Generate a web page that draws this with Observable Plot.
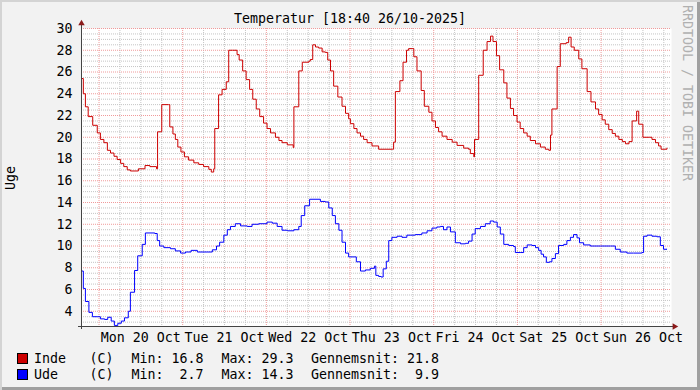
<!DOCTYPE html>
<html><head><meta charset="utf-8">
<script src="https://cdn.jsdelivr.net/npm/d3@7"></script>
<script src="https://cdn.jsdelivr.net/npm/@observablehq/plot@0.6"></script>
<style>
html,body{margin:0;padding:0;background:#fff;}
#chart{position:relative;width:700px;height:390px;background:#f2f2f2;font-family:"DejaVu Sans Mono",monospace;font-size:13.3px;color:#000;overflow:hidden;
  box-shadow: inset 2px 2px 0 #d4d4d4, inset -3px -3px 0 #a0a0a0;}
#chart svg{position:absolute;left:0;top:0;}
.t{position:absolute;white-space:pre;line-height:16px;}
.sw{position:absolute;width:9px;height:9px;border:1px solid #000;}
</style>
</head><body>
<div id="chart">
  <div class="t" id="title" style="left:0;width:700px;text-align:center;top:11px;">Temperatur [18:40 26/10-2025]</div>
  <div class="t" style="left:11px;top:178px;transform:translate(-50%,-50%) rotate(-90deg);">Uge</div>
  <div class="t" style="left:687px;top:93px;color:#b0b0b0;transform:translate(-50%,-50%) rotate(90deg);">RRDTOOL / TOBI OETIKER</div>
  <div id="legend"></div>
</div>
<script>
// hours since Mon 20 Oct 2025 00:00
const xStart = -5.02, xEnd = 164.2;
const yMin = 2.6, yMax = 30;

const dayStarts = [0, 24, 48, 72, 96, 120, 144];
const dayLabels = ["Mon 20 Oct", "Tue 21 Oct", "Wed 22 Oct", "Thu 23 Oct", "Fri 24 Oct", "Sat 25 Oct", "Sun 26 Oct"];
const yTicks = [4, 6, 8, 10, 12, 14, 16, 18, 20, 22, 24, 26, 28, 30];

const indeHours = [-5.0,-4.5,-3.9,-3.1,-1.8,-0.5,0.4,1.4,2.4,3.3,
  4.3,5.2,6.2,7.1,8.1,9.0,11.3,13.2,14.6,16.5,
  16.8,18.0,19.9,20.3,21.2,21.9,22.6,23.5,24.5,25.7,
  27.2,28.6,30.0,31.5,32.2,32.9,33.2,34.3,35.3,36.5,
  37.2,38.3,39.6,40.2,41.2,42.2,43.2,44.1,45.1,46.1,
  47.2,48.2,49.2,50.6,51.6,52.5,54.0,55.7,55.9,57.3,
  58.3,60.2,60.6,61.3,62.1,63.0,64.0,64.9,65.6,66.4,
  67.3,68.5,69.7,70.7,71.6,72.1,73.1,74.0,75.0,75.9,
  76.9,78.3,80.2,84.1,84.5,85.0,86.3,87.2,88.2,88.8,
  89.8,90.3,91.2,92.4,93.3,94.6,95.5,96.5,97.4,98.4,
  99.8,101.3,102.7,104.6,106.0,106.5,107.5,107.7,108.9,110.2,
  111.3,112.3,113.0,114.0,114.9,116.1,117.0,118.0,118.9,119.9,
  120.8,121.8,122.8,123.7,125.2,126.6,128.0,129.0,129.5,129.9,
  131.4,132.3,134.0,134.7,135.4,136.3,137.6,138.5,140.0,141.1,
  142.4,143.3,144.3,145.2,146.2,147.2,148.1,149.1,150.1,151.0,
  152.0,152.9,154.2,154.8,156.0,157.9,158.6,159.6,160.5,161.2,
  162.9];
const indeTemp = [25.4,24.0,22.8,21.9,21.1,20.4,19.8,19.5,18.8,18.55,
  18.25,17.95,17.6,17.3,17.0,16.9,17.1,17.4,17.3,17.1,
  20.5,23.0,23.0,20.95,20.3,19.8,19.1,18.65,18.2,17.9,
  17.65,17.5,17.3,17.05,16.8,17.1,20.8,23.9,24.4,25.1,
  28.0,28.0,27.6,27.1,26.1,25.3,24.4,23.5,22.6,21.9,
  21.3,20.8,20.4,20.0,19.7,19.5,19.3,19.05,22.8,26.1,
  26.9,27.0,27.15,28.5,28.3,28.2,27.85,27.8,27.1,26.1,
  24.7,23.7,22.85,22.2,21.7,21.25,20.8,20.4,20.1,19.8,
  19.5,19.2,18.9,18.9,19.55,24.2,25.2,26.9,28.0,28.15,
  28.15,27.4,26.1,24.3,22.85,22.3,21.5,20.9,20.5,20.1,
  19.8,19.55,19.25,19.0,18.9,18.5,18.2,19.8,25.7,28.0,
  28.8,29.3,28.8,27.5,26.2,25.0,23.6,22.65,22.0,21.4,
  20.8,20.4,20.1,19.7,19.4,19.1,18.9,18.8,20.2,22.6,
  26.5,28.6,28.7,29.2,28.3,28.0,27.2,26.3,24.2,23.25,
  22.6,22.1,21.6,21.2,20.7,20.35,20.1,19.8,19.6,19.4,
  19.6,21.5,22.4,21.2,20.0,20.0,19.8,19.5,19.2,18.9,
  19.0];

const udeHours = [-5.0,-4.5,-3.9,-2.9,-1.9,-0.5,0.4,1.6,2.5,3.5,
  4.4,5.4,6.4,7.3,8.4,9.0,10.2,11.1,12.4,13.3,
  16.0,16.7,17.4,18.6,20.5,21.9,23.4,24.8,26.4,28.2,
  31.0,32.5,33.7,34.6,35.8,36.8,37.7,39.1,40.6,42.5,
  43.9,45.8,48.2,49.7,51.1,52.5,54.0,55.9,57.3,58.0,
  59.0,60.4,63.5,64.9,65.9,66.9,67.8,68.8,69.7,70.7,
  71.6,73.1,73.8,75.0,76.4,77.8,79.0,79.4,80.2,80.9,
  81.5,82.4,83.1,84.0,85.5,86.9,88.3,90.7,92.6,94.1,
  95.5,96.9,97.9,98.8,99.8,100.8,102.2,103.7,105.1,106.0,
  107.0,107.9,109.4,110.8,112.2,113.2,114.2,115.1,116.1,117.5,
  118.9,119.4,120.8,121.8,122.8,124.2,125.2,126.1,126.8,127.5,
  128.3,129.2,129.9,130.9,131.8,133.3,134.2,135.2,136.1,137.1,
  137.8,139.0,140.9,143.8,146.7,148.1,149.5,151.4,153.3,155.7,
  156.2,157.2,158.6,160.0,161.0,161.9,162.9];
const udeTemp = [7.7,6.1,4.9,3.9,3.5,3.5,3.3,3.25,3.45,3.1,
  2.7,2.9,3.1,3.4,4.0,5.75,7.75,9.1,10.15,11.2,
  11.15,10.5,10.0,9.85,9.75,9.55,9.35,9.45,9.6,9.45,
  9.45,9.65,10.0,10.35,11.0,11.5,11.8,12.05,11.85,11.8,
  12.0,12.05,12.2,12.1,11.8,11.45,11.4,11.5,11.8,12.8,
  13.7,14.3,14.1,14.05,13.5,12.8,12.05,11.45,10.35,9.35,
  9.0,9.0,8.55,7.7,7.8,7.95,8.15,7.3,7.2,7.15,
  7.9,8.6,10.5,10.8,10.9,10.8,11.0,11.05,11.2,11.4,
  11.65,11.75,11.8,11.5,11.75,11.3,10.3,10.2,10.25,10.45,
  11.1,11.6,11.8,12.05,12.3,12.2,11.75,11.1,10.15,10.05,
  9.95,9.4,9.4,9.85,10.1,10.05,9.85,9.6,9.25,9.0,
  8.5,8.55,8.85,9.3,10.05,10.15,10.5,10.8,11.05,10.75,
  10.3,10.1,10.0,10.0,10.0,9.7,9.45,9.35,9.35,9.4,
  10.9,11.0,10.9,10.85,10.05,9.7,9.7];

const seriesNames = ["Inde", "Ude"];
const seriesUnits = ["(C)", "(C)"];
const seriesColors = ["#cc0000", "#0000ff"];
const minVals = [16.8, 2.7];
const maxVals = [29.3, 14.3];
const avgVals = [21.8, 9.9];

const inde = indeHours.map((t, i) => ({t, v: indeTemp[i]}));
const ude = udeHours.map((t, i) => ({t, v: udeTemp[i]}));

const majorX = dayStarts;
const minorX = dayStarts.flatMap(d => [d + 6, d + 12, d + 18]).filter(h => h > xStart && h < xEnd);
const minorY = d3.range(3, yMax, 0.5).filter(v => v % 2 !== 0);
const labelAt = new Map(dayStarts.map((d, i) => [d + 12, dayLabels[i]]));

const dash = "1,1";
const plot = Plot.plot({
  width: 700, height: 346,
  marginLeft: 81, marginRight: 29, marginTop: 28, marginBottom: 20,
  style: {background: "transparent", fontFamily: "'DejaVu Sans Mono', monospace", fontSize: "13.3px", color: "#000", overflow: "visible"},
  x: {type: "linear", domain: [xStart, xEnd]},
  y: {domain: [yMin, yMax]},
  marks: [
    Plot.frame({fill: "#ffffff", stroke: null}),
    Plot.ruleY(minorY, {stroke: "#c4c4c4", strokeDasharray: dash}),
    Plot.ruleX(minorX, {stroke: "#c4c4c4", strokeDasharray: dash}),
    Plot.ruleY(yTicks, {stroke: "#f09a9a", strokeDasharray: dash}),
    Plot.ruleX(majorX, {stroke: "#f09a9a", strokeDasharray: dash}),
    Plot.line(inde, {x: "t", y: "v", stroke: seriesColors[0], strokeWidth: 1, curve: "step-after"}),
    Plot.line(ude, {x: "t", y: "v", stroke: seriesColors[1], strokeWidth: 1, curve: "step-after"}),
    Plot.ruleX([xStart], {stroke: "#444", insetTop: -4, insetBottom: -3}),
    Plot.ruleY([yMin], {stroke: "#444", insetRight: -2, insetLeft: -3}),
    Plot.dot([0], {frameAnchor: "top-left", symbol: "triangle", r: 2.4, fill: "#8b1a1a", stroke: null, dy: -5}),
    Plot.dot([0], {frameAnchor: "bottom-right", symbol: "triangle", r: 2.4, fill: "#8b1a1a", stroke: null, dx: 3, rotate: 90}),
    Plot.axisY(yTicks, {tickSize: 0, tickPadding: 9, label: null, fill: "#000"}),
    Plot.axisX([...labelAt.keys()], {tickSize: 0, tickPadding: 6, label: null, fill: "#000", tickFormat: d => labelAt.get(d)})
  ]
});
document.getElementById("chart").insertBefore(plot, document.getElementById("title"));

const legend = document.getElementById("legend");
function addText(str, left, top) {
  const t = document.createElement("div");
  t.className = "t";
  t.style.left = left + "px";
  t.style.top = top + "px";
  t.textContent = str;
  legend.appendChild(t);
}
seriesNames.forEach((name, i) => {
  const top = 351 + i * 16;
  const sw = document.createElement("div");
  sw.className = "sw";
  sw.style.left = "17px";
  sw.style.top = (353 + i * 16) + "px";
  sw.style.background = seriesColors[i];
  legend.appendChild(sw);
  addText(name, 34, top);
  addText(seriesUnits[i], 89.5, top);
  addText("Min:" + minVals[i].toFixed(1).padStart(5), 131.5, top);
  addText("Max:" + maxVals[i].toFixed(1).padStart(5), 221.5, top);
  addText("Gennemsnit:" + avgVals[i].toFixed(1).padStart(5), 311, top);
});
</script>
</body></html>
